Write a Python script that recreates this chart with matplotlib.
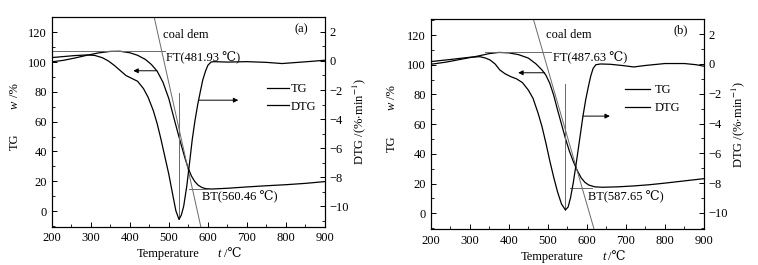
import matplotlib
matplotlib.use("Agg")
import matplotlib.pyplot as plt

plt.rcParams['font.family'] = ['Liberation Serif', 'DejaVu Serif', 'DejaVu Sans']
plt.rcParams['mathtext.fontset'] = 'stix'
plt.rcParams['font.size'] = 9

# ---- panel (a) ----
tg_a_t = [200, 230, 260, 290, 320, 350, 375, 400, 420, 440, 455, 470, 485, 500,
          515, 530, 542, 550, 558, 566, 575, 585, 595, 610, 650, 700, 750, 800,
          850, 900]
tg_a = [100.2, 101.2, 102.8, 104.6, 106.2, 107.2, 107.3, 106.3, 104.6, 101.8,
        98.5, 94.0, 86.5, 75.5, 60.5, 46.0, 35.0, 28.5, 23.5, 20.0, 17.4, 15.8,
        15.0, 14.8, 15.3, 16.2, 17.0, 17.7, 18.6, 19.8]
dtg_a_t = [200, 230, 260, 290, 310, 330, 345, 360, 375, 390, 405, 420, 435, 447,
           460, 470, 480, 490, 500, 510, 518, 526, 532, 538, 546, 554, 560, 567,
           574, 580, 587, 594, 600, 608, 615, 650, 700, 750, 790, 830, 870, 900]
dtg_a = [0.23, 0.3, 0.37, 0.41, 0.38, 0.22, 0.0, -0.3, -0.65, -1.0, -1.2, -1.4,
         -1.9, -2.5, -3.4, -4.3, -5.4, -6.6, -7.8, -9.2, -10.3, -10.9, -10.6,
         -10.0, -8.6, -6.8, -5.4, -4.1, -3.0, -2.2, -1.3, -0.7, -0.3, -0.08,
         -0.05, -0.08, -0.05, -0.1, -0.18, -0.1, -0.02, 0.05]

# ---- panel (b) ----
tg_b_t = [200, 240, 280, 320, 350, 375, 400, 425, 450, 470, 485, 495, 505, 515,
          525, 535, 545, 555, 565, 575, 585, 595, 605, 620, 640, 680, 720, 760,
          800, 850, 900]
tg_b = [100.3, 101.8, 103.8, 105.8, 107.5, 108.3, 108.0, 106.8, 104.5, 100.5,
        96.5, 93.0, 87.5, 79.5, 69.5, 60.0, 50.5, 42.0, 35.0, 29.0, 24.0, 20.8,
        19.0, 17.8, 17.5, 17.8, 18.4, 19.2, 20.3, 21.8, 23.3]
dtg_b_t = [200, 250, 300, 326, 340, 352, 365, 377, 390, 405, 420, 435, 450, 462,
           475, 485, 495, 505, 515, 525, 535, 545, 552, 558, 565, 572, 578, 584,
           590, 597, 604, 610, 616, 623, 635, 660, 690, 720, 750, 800, 850, 880,
           900]
dtg_b = [0.16, 0.3, 0.45, 0.49, 0.4, 0.27, 0.0, -0.4, -0.65, -0.85, -1.0, -1.25,
         -1.75, -2.3, -3.3, -4.2, -5.3, -6.5, -7.6, -8.6, -9.4, -9.8, -9.6, -9.0,
         -8.0, -6.8, -5.7, -4.6, -3.5, -2.4, -1.5, -0.8, -0.3, -0.05, 0.0,
         -0.02, -0.1, -0.2, -0.1, 0.03, 0.03, -0.05, -0.15]

panels = [
    dict(tg_t=tg_a_t, tg=tg_a, dtg_t=dtg_a_t, dtg=dtg_a, tag='(a)',
         ft=481.93, bt=560.46, tg_max=107.3, tg_min=14.8, peak=526, peak_top=79,
         ft_span=(200, 490), bt_span=(552, 600),
         ylim=(-10.5, 130.1), y2lim=(-11.4, 3.0),
         larrow=(469, 409, 94.2), rarrow=(576, 678, -2.7),
         coal=(486, 118), ft_txt=(492, 102.5), bt_txt=(584, 9.6), tag_xy=(821, 122),
         leg=(0.787, 0.686), hlen=1.8, pad=0.15,
         xlab=(0.312, -0.147), ylab=(-0.125, 0.366),
         rect=[51.7 / 758, (265 - 226.7) / 265, 273.3 / 758, 209.4 / 265]),
    dict(tg_t=tg_b_t, tg=tg_b, dtg_t=dtg_b_t, dtg=dtg_b, tag='(b)',
         ft=487.63, bt=587.65, tg_max=108.3, tg_min=17.3, peak=545, peak_top=87,
         ft_span=(340, 508), bt_span=(557, 612),
         ylim=(-10.8, 130.6), y2lim=(-11.1, 3.0),
         larrow=(492, 424, 94.6), rarrow=(590, 659, -3.5),
         coal=(496, 120), ft_txt=(513, 104.3), bt_txt=(604, 11.2), tag_xy=(823, 123.4),
         leg=(0.71, 0.69), hlen=2.0, pad=0.4,
         xlab=(0.331, -0.144), ylab=(-0.13, 0.37),
         rect=[430.7 / 758, (265 - 229.3) / 265, 273.3 / 758, 210 / 265]),
]


def chain_text(ax, x, y, parts, vertical=False):
    """draw text pieces one after another (plain / italic) starting at axes coords"""
    prev = None
    for txt, style, gap in parts:
        if prev is None:
            prev = ax.text(x, y, txt, transform=ax.transAxes, style=style,
                           rotation=90 if vertical else 0, rotation_mode='anchor',
                           ha='left', va='baseline', fontsize=9)
        elif vertical:
            prev = ax.annotate(txt, xy=(1, 1), xycoords=prev, xytext=(0, gap),
                               textcoords='offset points', ha='right', va='bottom',
                               rotation=90, style=style, fontsize=9)
        else:
            prev = ax.annotate(txt, xy=(1, 0), xycoords=prev, xytext=(gap, 0),
                               textcoords='offset points', ha='left', va='bottom',
                               style=style, fontsize=9)


fig = plt.figure(figsize=(7.58, 2.65), dpi=100)
gray = '#6a6a6a'

for p in panels:
    ax = fig.add_axes(p['rect'])
    ax2 = ax.twinx()

    # curves
    l_tg, = ax.plot(p['tg_t'], p['tg'], color='black', lw=0.9)
    l_dtg, = ax2.plot(p['dtg_t'], p['dtg'], color='black', lw=0.9)

    ax.set_xlim(200, 900)
    ax.set_ylim(*p['ylim'])
    ax2.set_ylim(*p['y2lim'])

    # tangent construction lines
    slope = (p['tg_min'] - p['tg_max']) / (p['bt'] - p['ft'])
    y_lo, y_hi = p['ylim']
    x_hi = p['ft'] + (y_hi - p['tg_max']) / slope
    x_lo = p['ft'] + (y_lo - p['tg_max']) / slope
    ax.plot([x_hi, x_lo], [y_hi, y_lo], color=gray, lw=0.7)
    ax.plot(p['ft_span'], [p['tg_max'], p['tg_max']], color=gray, lw=0.7)
    ax.plot(p['bt_span'], [p['tg_min'], p['tg_min']], color=gray, lw=0.7)
    dmin = min(p['dtg'])
    dmin_left = y_lo + (dmin - p['y2lim'][0]) / (p['y2lim'][1] - p['y2lim'][0]) * (y_hi - y_lo)
    ax.plot([p['peak'], p['peak']], [dmin_left, p['peak_top']], color=gray, lw=0.7)

    # arrows
    x0, x1, y = p['larrow']
    ax.annotate('', xy=(x1, y), xytext=(x0, y),
                arrowprops=dict(arrowstyle='-|>', color='black', lw=0.7,
                                mutation_scale=7, shrinkA=0, shrinkB=0))
    x0, x1, y = p['rarrow']
    ax2.annotate('', xy=(x1, y), xytext=(x0, y),
                 arrowprops=dict(arrowstyle='-|>', color='black', lw=0.7,
                                 mutation_scale=7, shrinkA=0, shrinkB=0))

    # texts
    ax.text(*p['coal'], 'coal dem', va='center', ha='left', fontsize=9)
    ax.text(*p['ft_txt'], 'FT(%.2f \u2103)' % p['ft'], va='center', ha='left', fontsize=9)
    ax.text(*p['bt_txt'], 'BT(%.2f \u2103)' % p['bt'], va='center', ha='left', fontsize=9)
    ax.text(*p['tag_xy'], p['tag'], va='center', ha='left', fontsize=9)

    ax.legend([l_tg, l_dtg], ['TG', 'DTG'], loc='upper left',
              bbox_to_anchor=p['leg'], frameon=False, handlelength=p['hlen'],
              handletextpad=p['pad'], borderpad=0, borderaxespad=0,
              labelspacing=0.45, fontsize=9)

    # axes styling
    ax.set_xticks(range(200, 901, 100))
    ax.set_xticks(range(250, 900, 100), minor=True)
    ax.set_yticks(range(0, 121, 20))
    ax.set_yticks(range(-10, 131, 10), minor=True)
    ax2.set_yticks(range(-10, 3, 2))
    ax2.set_yticks(range(-11, 4, 1), minor=True)
    ax2.set_yticklabels([('\u2212%d' % -v) if v < 0 else str(v) for v in range(-10, 3, 2)])
    for a in (ax, ax2):
        a.tick_params(which='major', direction='in', length=3.5, width=0.7, labelsize=9)
        a.tick_params(which='minor', direction='in', length=2, width=0.6)
        for s in a.spines.values():
            s.set_linewidth(0.8)
    ax.tick_params(axis='x', pad=4)

    # axis titles
    chain_text(ax, *p['xlab'], [('Temperature', 'normal', 0), ('t', 'italic', 13),
                                ('/\u2103', 'normal', 2)])
    chain_text(ax, *p['ylab'], [('TG', 'normal', 0), ('w', 'italic', 18),
                                ('/%', 'normal', 2)], vertical=True)
    ax2.set_ylabel('DTG /(%$\\cdot$min$^{-1}$)', fontsize=9, labelpad=1)

fig.savefig('out.png', dpi=100)
